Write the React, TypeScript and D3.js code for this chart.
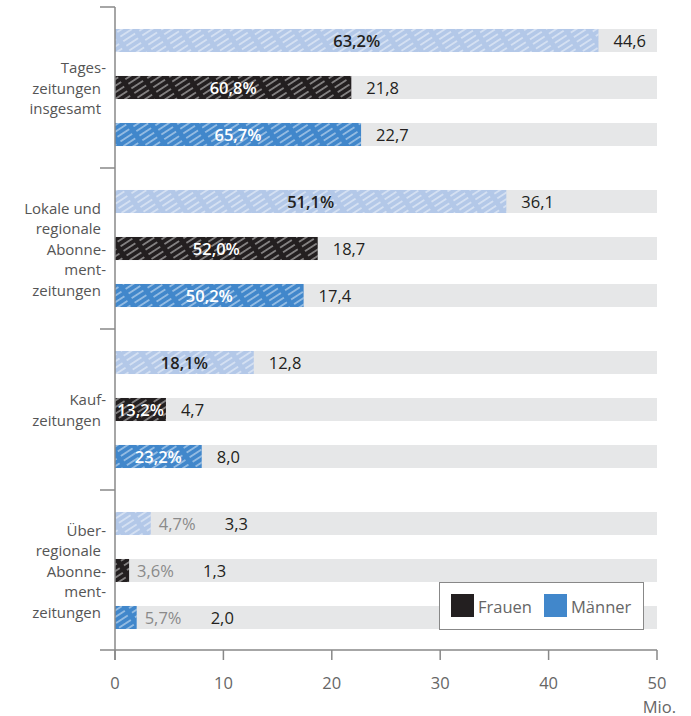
import React from "react";
import * as d3 from "d3";

const categories = [
  ["Tages-", "zeitungen", "insgesamt"],
  ["Lokale und", "regionale", "Abonne-", "ment-", "zeitungen"],
  ["Kauf-", "zeitungen"],
  ["Über-", "regionale", "Abonne-", "ment-", "zeitungen"],
];
const series = ["Gesamt", "Frauen", "Männer"];
const totalValues = [44.6, 36.1, 12.8, 3.3];
const totalPct = ["63,2%", "51,1%", "18,1%", "4,7%"];
const frauenValues = [21.8, 18.7, 4.7, 1.3];
const frauenPct = ["60,8%", "52,0%", "13,2%", "3,6%"];
const maennerValues = [22.7, 17.4, 8.0, 2.0];
const maennerPct = ["65,7%", "50,2%", "23,2%", "5,7%"];
const xTicks = [0, 10, 20, 30, 40, 50];
const legendItems = ["Frauen", "Männer"];

const W = 691;
const H = 716;
const FONT = "'Open Sans', 'Liberation Sans', sans-serif";
const FS = 16.5;
const colors: Record<string, string> = {
  Gesamt: "#b3c8e8",
  Frauen: "#231f20",
  Männer: "#4187cb",
};
const labelColors: Record<string, string> = {
  Gesamt: "#231f20",
  Frauen: "#ffffff",
  Männer: "#ffffff",
};

export default function App() {
  const x = d3.scaleLinear().domain([0, 50]).range([115, 657]);
  const groupIdx = categories.map((_, i) => String(i));
  const y = d3.scaleBand<string>().domain(groupIdx).range([7, 651]);
  const inner = d3
    .scaleBand<string>()
    .domain(series)
    .range([0, y.step()])
    .paddingInner(0.51)
    .paddingOuter(0.4678);
  const bw = inner.bandwidth();

  const data: Record<string, { v: number[]; p: string[] }> = {
    Gesamt: { v: totalValues, p: totalPct },
    Frauen: { v: frauenValues, p: frauenPct },
    Männer: { v: maennerValues, p: maennerPct },
  };

  const boundaries = groupIdx.map((g) => y(g)!).concat([y.range()[1]]);

  return (
    <svg width={W} height={H} style={{ display: "block", position: "absolute", left: 0, top: 0 }}>
      <defs>
        <pattern
          id="hatch"
          patternUnits="userSpaceOnUse"
          width={5.5}
          height={19}
          patternTransform="rotate(57)"
        >
          <line x1={2.75} y1={0} x2={2.75} y2={19} stroke="#ffffff" strokeWidth={1} strokeDasharray="14 5" opacity={0.8} />
        </pattern>
      </defs>
      <rect x={0} y={0} width={W} height={H} fill="#fff" />

      {/* group labels */}
      {categories.map((lines, i) => {
        const cy = y(String(i))! + y.bandwidth() / 2;
        const lh = 20.5;
        const y0 = cy - ((lines.length - 1) * lh) / 2;
        return (
          <text key={i} fontFamily={FONT} fontSize={15} fill="#555" textAnchor="end">
            {lines.map((l, j) => (
              <tspan key={j} x={l.endsWith("-") ? 106 : 101} y={y0 + j * lh} dominantBaseline="central">
                {l}
              </tspan>
            ))}
          </text>
        );
      })}

      {/* bars */}
      {groupIdx.map((g, gi) =>
        series.map((s) => {
          const top = y(g)! + inner(s)!;
          const v = data[s].v[gi];
          const pct = data[s].p[gi];
          const xEnd = x(v);
          const cy = top + bw / 2;
          const inside = v >= 4;
          return (
            <g key={g + s}>
              <rect x={x(0)} y={top} width={x(50) - x(0)} height={bw} fill="#e6e7e8" />
              <rect x={x(0)} y={top} width={xEnd - x(0)} height={bw} fill={colors[s]} />
              <rect x={x(0)} y={top} width={xEnd - x(0)} height={bw} fill="url(#hatch)" />
              {inside ? (
                <text
                  x={(x(0) + xEnd) / 2}
                  y={cy}
                  dominantBaseline="central"
                  textAnchor="middle"
                  fontFamily={FONT}
                  fontSize={FS}
                  fontWeight={600}
                  fill={labelColors[s]}
                >
                  {pct}
                </text>
              ) : (
                <text
                  x={xEnd + 8}
                  y={cy}
                  dominantBaseline="central"
                  fontFamily={FONT}
                  fontSize={FS}
                  fill="#8a8a8a"
                >
                  {pct}
                </text>
              )}
              <text
                x={inside ? xEnd + 15 : xEnd + 74}
                y={cy}
                dominantBaseline="central"
                fontFamily={FONT}
                fontSize={FS}
                fill="#231f20"
              >
                {d3.format(".1f")(v).replace(".", ",")}
              </text>
            </g>
          );
        })
      )}

      {/* y axis */}
      <line x1={115} x2={115} y1={boundaries[0]} y2={660} stroke="#888" strokeWidth={1.5} />
      {boundaries.slice(0, -1).map((b, i) => (
        <line key={i} x1={100} x2={115} y1={b} y2={b} stroke="#888" strokeWidth={1.5} />
      ))}

      {/* x axis */}
      <line x1={100} x2={x(50)} y1={650} y2={650} stroke="#888" strokeWidth={1.5} />
      {xTicks.map((t) => (
        <g key={t}>
          <line x1={x(t)} x2={x(t)} y1={650} y2={660} stroke="#888" strokeWidth={1.5} />
          <text x={x(t)} y={682} textAnchor="middle" dominantBaseline="central" fontFamily={FONT} fontSize={FS} fill="#666">
            {t}
          </text>
        </g>
      ))}
      <text x={676} y={706} textAnchor="end" dominantBaseline="central" fontFamily={FONT} fontSize={FS} fill="#666">
        Mio.
      </text>

      {/* legend */}
      <rect x={439.5} y={582.5} width={204} height={47} fill="#fff" stroke="#888" strokeWidth={1} />
      {legendItems.map((l, i) => {
        const lx = 451 + i * 93;
        return (
          <g key={l}>
            <rect x={lx} y={594} width={23} height={23} fill={colors[l]} />
            <text x={lx + 27} y={606} dominantBaseline="central" fontFamily={FONT} fontSize={FS} fill="#666">
              {l}
            </text>
          </g>
        );
      })}
    </svg>
  );
}
